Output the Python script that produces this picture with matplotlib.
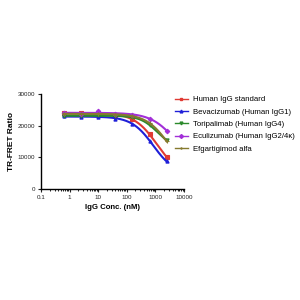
import numpy as np
import matplotlib.pyplot as plt
from matplotlib.ticker import LogLocator, NullFormatter, FixedLocator

plt.rcParams['font.family'] = ['Liberation Sans', 'DejaVu Sans']

conc = np.array([0.61, 2.44, 9.77, 39.1, 156, 625, 2500])
labels = ["Human IgG standard", "Bevacizumab (Human IgG1)", "Toripalimab (Human IgG4)",
          "Eculizumab (Human IgG2/4\u03ba)", "Efgartigimod alfa"]
colors = ["#e03a33", "#1f1fd8", "#2b8a2b", "#a22fd8", "#857a2e"]
markers = ["s", "^", "v", "D", "+"]
human_igg = [24000, 23900, 23800, 23500, 22000, 17200, 10100]
bevacizumab = [23000, 22800, 22800, 22200, 20600, 15200, 8700]
toripalimab = [23000, 23100, 23200, 23100, 22600, 20200, 15400]
eculizumab = [23900, 23800, 24500, 23800, 23500, 22200, 18400]
efgartigimod = [23700, 23700, 23700, 23500, 23000, 20800, 15000]
series = [human_igg, bevacizumab, toripalimab, eculizumab, efgartigimod]


def fit4pl(x, y):
    # grid search on ec50 and slope, top/bottom by linear least squares
    lx = np.log10(x)
    best = None
    for le in np.linspace(1.5, 5.0, 141):
        for h in np.linspace(0.4, 2.5, 43):
            s = 1.0 / (1.0 + 10 ** (h * (lx - le)))
            A = np.column_stack([s, 1 - s])
            coef, *_ = np.linalg.lstsq(A, y, rcond=None)
            err = np.sum((A @ coef - y) ** 2)
            if best is None or err < best[0]:
                best = (err, le, h, coef)
    return best[1:]


fig = plt.figure(figsize=(3, 3), dpi=100)
ax = fig.add_axes([0.137, 0.37, 0.476, 0.317])
xs = np.logspace(np.log10(0.61), np.log10(2500), 200)
for ys, c, m, lab in zip(series, colors, markers, labels):
    ys = np.array(ys, dtype=float)
    le, h, (top, bot) = fit4pl(conc, ys)
    s = 1.0 / (1.0 + 10 ** (h * (np.log10(xs) - le)))
    ax.plot(xs, top * s + bot * (1 - s), color=c, lw=1.5)
    ax.plot(conc, ys, ls="none", marker=m, ms=2.3, color=c, mew=0.8)
    ax.plot([], [], color=c, marker=m, ms=2.0, lw=1.0, label=lab)

ax.set_xscale("log")
ax.set_xlim(0.1, 10000)
ax.set_ylim(0, 30000)
ax.xaxis.set_major_locator(FixedLocator([0.1, 1, 10, 100, 1000, 10000]))
ax.set_xticklabels(["0.1", "1", "10", "100", "1000", "10000"])
ax.xaxis.set_minor_locator(LogLocator(base=10, subs=np.arange(2, 10)))
ax.xaxis.set_minor_formatter(NullFormatter())
ax.set_yticks([0, 10000, 20000, 30000])
ax.spines["top"].set_visible(False)
ax.spines["right"].set_visible(False)
for sp in ["left", "bottom"]:
    ax.spines[sp].set_linewidth(1.0)
ax.tick_params(labelsize=4.5, width=0.8, length=2.5, pad=2, colors="#222222")
ax.tick_params(which="minor", length=1.5, width=0.6)
ax.set_xlabel("IgG Conc. (nM)", fontsize=5.6, fontweight="bold", labelpad=3)
ax.set_ylabel("TR-FRET Ratio", fontsize=6, fontweight="bold", labelpad=1.5)
ax.legend(loc="upper left", bbox_to_anchor=(0.9, 1.035), frameon=False, fontsize=5.6,
          handlelength=1.6, labelspacing=0.62, handletextpad=0.7, borderaxespad=0.3)

fig.savefig("out.png", dpi=100)
